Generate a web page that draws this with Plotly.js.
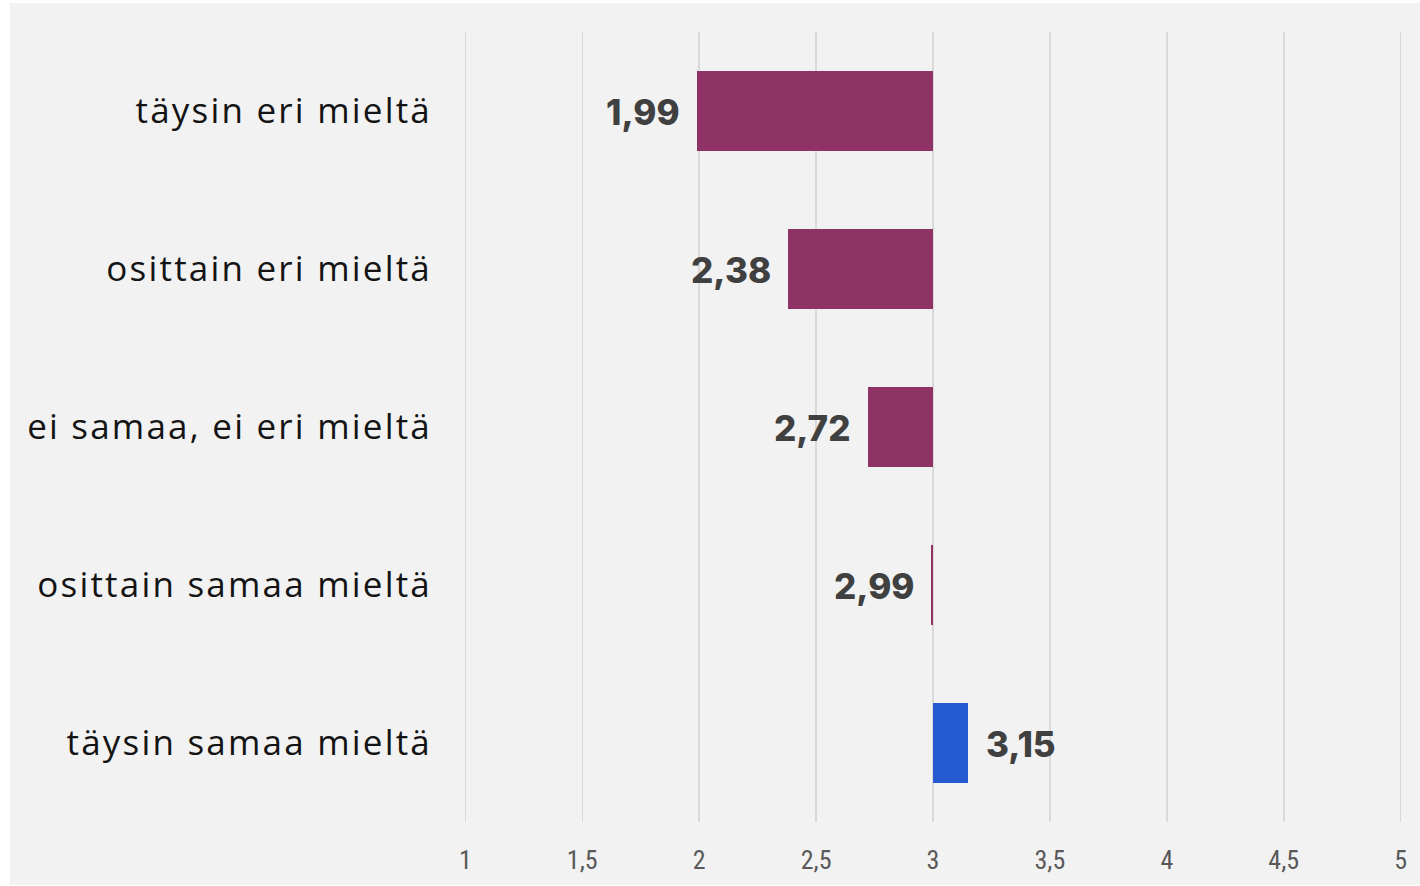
<!DOCTYPE html>
<html><head><meta charset="utf-8">
<script src="https://cdn.plot.ly/plotly-3.0.1.min.js"></script>
<style>
html,body{margin:0;padding:0;background:#ffffff;}
#chart{position:absolute;left:10px;top:3px;width:1410px;height:882px;}
#chart .ytick text{letter-spacing:2.2px;}
</style></head>
<body><div id="chart"></div>
<script>
const categories = ["täysin eri mieltä","osittain eri mieltä","ei samaa, ei eri mieltä","osittain samaa mieltä","täysin samaa mieltä"];
const values = [1.99, 2.38, 2.72, 2.99, 3.15];
const valueLabels = ["1,99","2,38","2,72","2,99","3,15"];
const baseline = 3;
const tickVals = [1,1.5,2,2.5,3,3.5,4,4.5,5];
const tickText = ["1","1,5","2","2,5","3","3,5","4","4,5","5"];

const purple = "#8F3366", blue = "#245BD3";
const colors = values.map(v => v < baseline ? purple : blue);

const trace = {
  type: "bar", orientation: "h",
  y: categories, x: values.map(v => v - baseline), base: baseline,
  marker: {color: colors, line: {width: 0}},
  width: 0.506, hoverinfo: "skip"
};

const annotations = values.map((v, i) => ({
  x: v, y: categories[i], xref: "x", yref: "y",
  text: valueLabels[i], showarrow: false,
  xanchor: v < baseline ? "right" : "left",
  xshift: v < baseline ? -15 : 16, yshift: -1,
  font: {family: "Inter, 'Open Sans', sans-serif", size: 35, color: "#404040", weight: 800}
}));

const layout = {
  width: 1410, height: 882,
  paper_bgcolor: "#F2F2F2", plot_bgcolor: "#F2F2F2",
  margin: {l: 452.66, r: 16.66, t: 29, b: 63},
  showlegend: false,
  bargap: 0,
  xaxis: {
    range: [0.99, 5.01], tickvals: tickVals, ticktext: tickText,
    showgrid: true, gridcolor: "#D9D9D9", gridwidth: 1.5,
    zeroline: false, showline: false, ticks: "",
    tickfont: {family: "'Liberation Sans Narrow', 'Roboto Condensed', Roboto, sans-serif", size: 26, color: "#595959"},
    ticklabelstandoff: 20, fixedrange: true
  },
  yaxis: {
    categoryorder: "array", categoryarray: categories,
    autorange: "reversed", showgrid: false, zeroline: false, showline: false,
    ticks: "", ticklabelstandoff: 30,
    tickfont: {family: "'Open Sans', Inter, sans-serif", size: 35, color: "#141414"},
    fixedrange: true
  },
  annotations: annotations
};

Plotly.newPlot("chart", [trace], layout, {displayModeBar: false, staticPlot: true});
</script></body></html>
